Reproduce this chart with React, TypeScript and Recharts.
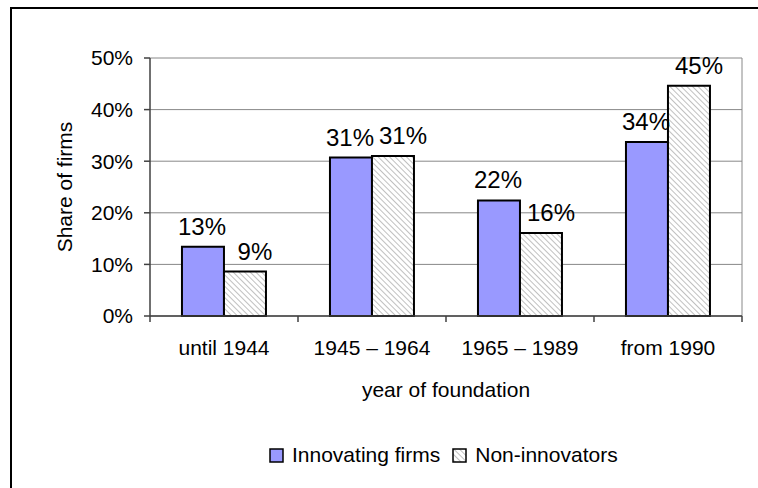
import React from "react";
import { BarChart, Bar, XAxis, YAxis, CartesianGrid, Legend, LabelList, Label } from "recharts";

const periods = ["until 1944", "1945 – 1964", "1965 – 1989", "from 1990"];
const innovating = [13.4, 30.7, 22.4, 33.7];
const nonInnovators = [8.6, 31.0, 16.1, 44.6];
const yTicks = [0, 10, 20, 30, 40, 50];

const data = periods.map((period, i) => ({
  period,
  innovating: innovating[i],
  nonInnovators: nonInnovators[i],
}));

const FONT = "Arial, 'Liberation Sans', Helvetica, sans-serif";
const AXIS = "#404040";
const GRID = "#888888";

// category axis: labels at band centres, tick marks on band edges (like Excel)
function PeriodTick(props: any) {
  const { x, y, payload, index } = props;
  const half = payload?.offset ?? (props.width ? props.width / periods.length / 2 : 0);
  const last = index === periods.length - 1;
  return (
    <g>
      <line x1={x - half} x2={x - half} y1={y} y2={y + 6} stroke={AXIS} strokeWidth={1.5} />
      {last && <line x1={x + half} x2={x + half} y1={y} y2={y + 6} stroke={AXIS} strokeWidth={1.5} />}
      <text x={x} y={y + 24} dy="0.71em" textAnchor="middle" fontSize={21} fill="#000" fontFamily={FONT}>
        {payload.value}
      </text>
    </g>
  );
}

function LegendContent({ payload }: any) {
  return (
    <div style={{ display: "flex", alignItems: "center", fontFamily: FONT, fontSize: 21, color: "#000", whiteSpace: "nowrap", lineHeight: "24px" }}>
      {(payload ?? []).map((p: any, i: number) => (
        <div key={p.value} style={{ display: "flex", alignItems: "center", marginRight: i === 0 ? 12 : 0 }}>
          <svg width={15} height={15} style={{ marginRight: 8 }}>
            <rect x={1} y={1} width={13} height={13} fill={p.color} stroke="#000" strokeWidth={1.5} />
          </svg>
          <span>{p.value}</span>
        </div>
      ))}
    </div>
  );
}

// value label above a bar; shift nudges it sideways so neighbouring labels don't collide
const barLabel = (shift: number) => (props: any) => {
  const { x, y, width, value } = props;
  return (
    <text x={Number(x) + Number(width) / 2 + shift} y={Number(y) - 12} textAnchor="middle" fontSize={24} fill="#000" fontFamily={FONT}>
      {`${Math.round(Number(value))}%`}
    </text>
  );
};

export default function App() {
  return (
    <div style={{ position: "relative", width: 758, height: 488, overflow: "hidden", background: "#fff" }}>
      <style>{"body{margin:0}"}</style>
      <div style={{ position: "absolute", left: 10, top: 7, width: 800, height: 600, border: "2px solid #000" }} />
      <BarChart
        width={758}
        height={488}
        data={data}
        margin={{ top: 58, right: 16, bottom: 0, left: 0 }}
        barGap={0}
        barCategoryGap="21.6%"
        style={{ position: "absolute", left: 0, top: 0 }}
      >
        <defs>
          <pattern id="hatch" width={4} height={4} patternUnits="userSpaceOnUse" patternTransform="rotate(-45)">
            <rect width={4} height={4} fill="#ffffff" />
            <line x1={0} y1={0} x2={0} y2={4} stroke="#b0b0b0" strokeWidth={1.6} />
          </pattern>
        </defs>
        <CartesianGrid
          stroke={GRID}
          verticalCoordinatesGenerator={({ offset }: any) => [offset.left + offset.width]}
        />
        <XAxis
          dataKey="period"
          height={172}
          tickLine={false}
          tickSize={0}
          tickMargin={0}
          interval={0}
          axisLine={{ stroke: AXIS, strokeWidth: 1.5 }}
          tick={<PeriodTick />}
        >
          <Label
            content={({ viewBox }: any) => (
              <text x={viewBox.x + viewBox.width / 2} y={viewBox.y + 81} textAnchor="middle" fontSize={21} fill="#000" fontFamily={FONT}>
                year of foundation
              </text>
            )}
          />
        </XAxis>
        <YAxis
          domain={[0, 50]}
          ticks={yTicks}
          interval={0}
          width={150}
          tickFormatter={(v) => `${v}%`}
          tick={{ fontSize: 21, fill: "#000", fontFamily: FONT }}
          tickSize={6}
          tickMargin={11}
          axisLine={{ stroke: AXIS, strokeWidth: 1.5 }}
          tickLine={{ stroke: AXIS, strokeWidth: 1.5 }}
        >
          <Label
            content={({ viewBox }: any) => {
              const cx = viewBox.x + 72;
              const cy = viewBox.y + viewBox.height / 2;
              return (
                <text x={cx} y={cy} transform={`rotate(-90 ${cx} ${cy})`} textAnchor="middle" fontSize={21} fill="#000" fontFamily={FONT}>
                  Share of firms
                </text>
              );
            }}
          />
        </YAxis>
        <Legend
          layout="horizontal"
          verticalAlign="middle"
          align="center"
          wrapperStyle={{ top: 443, left: 269, width: "auto" }}
          content={<LegendContent />}
        />
        <Bar dataKey="innovating" name="Innovating firms" fill="#9999FF" stroke="#000" strokeWidth={2} isAnimationActive={false}>
          <LabelList dataKey="innovating" content={barLabel(-1)} />
        </Bar>
        <Bar dataKey="nonInnovators" name="Non-innovators" fill="url(#hatch)" stroke="#000" strokeWidth={2} isAnimationActive={false}>
          <LabelList dataKey="nonInnovators" content={barLabel(10)} />
        </Bar>
      </BarChart>
    </div>
  );
}
